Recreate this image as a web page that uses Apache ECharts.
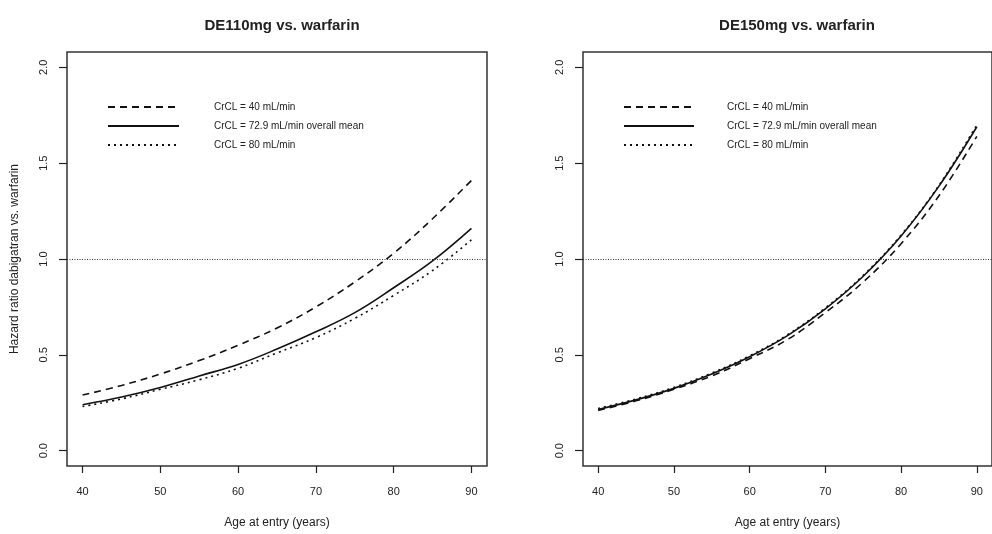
<!DOCTYPE html>
<html>
<head>
<meta charset="utf-8">
<script src="https://cdn.jsdelivr.net/npm/echarts@6/dist/echarts.min.js"></script>
<style>
  html, body { margin: 0; padding: 0; background: #fff; }
  #main { width: 992px; height: 534px; }
</style>
</head>
<body>
<div id="main"></div>
<script>
// ages read at 5-year steps
var ages = [40, 45, 50, 55, 60, 65, 70, 75, 80, 85, 90];
var xTicks = [40, 50, 60, 70, 80, 90];
var yTicks = [0, 0.5, 1, 1.5, 2];
var legendNames = ['CrCL = 40 mL/min', 'CrCL = 72.9 mL/min overall mean', 'CrCL = 80 mL/min'];

// DE110mg vs. warfarin
var de110_crcl40 = [0.29, 0.34, 0.40, 0.47, 0.55, 0.64, 0.75, 0.88, 1.03, 1.21, 1.41];
var de110_mean   = [0.24, 0.28, 0.33, 0.39, 0.45, 0.53, 0.62, 0.72, 0.85, 0.99, 1.16];
var de110_crcl80 = [0.23, 0.27, 0.32, 0.37, 0.43, 0.51, 0.59, 0.69, 0.81, 0.94, 1.10];

// DE150mg vs. warfarin
var de150_crcl40 = [0.21, 0.26, 0.32, 0.39, 0.48, 0.58, 0.72, 0.88, 1.08, 1.33, 1.64];
var de150_mean   = [0.215, 0.265, 0.325, 0.40, 0.49, 0.60, 0.74, 0.91, 1.12, 1.38, 1.69];
var de150_crcl80 = [0.22, 0.27, 0.33, 0.405, 0.495, 0.605, 0.745, 0.915, 1.125, 1.385, 1.70];

var FONT = 'Liberation Sans';
var INK = '#222';

function pairs(vals) {
  return ages.map(function (a, i) { return [a, vals[i]]; });
}

var styles = [
  { type: [7, 5], width: 1.6 },
  { type: 'solid', width: 1.6 },
  { type: [2, 4], width: 1.6 }
];

function xAxisFor(idx) {
  return {
    type: 'value', gridIndex: idx, min: 38, max: 92,
    name: 'Age at entry (years)', nameLocation: 'middle', nameGap: 51,
    nameTextStyle: { fontFamily: FONT, fontSize: 12, color: INK },
    axisLine: { show: false, onZero: false },
    axisTick: { show: true, inside: false, length: 7, customValues: xTicks,
      lineStyle: { color: INK, width: 1.2 } },
    axisLabel: { customValues: xTicks, margin: 20, fontFamily: FONT, fontSize: 11, color: INK },
    splitLine: { show: false }
  };
}

function yAxisFor(idx, showName) {
  return {
    type: 'value', gridIndex: idx, min: -0.08, max: 2.08,
    name: showName ? 'Hazard ratio dabigatran vs. warfarin' : '',
    nameLocation: 'middle', nameGap: 46, nameRotate: 90,
    nameTextStyle: { fontFamily: FONT, fontSize: 12, color: INK },
    axisLine: { show: false, onZero: false },
    axisTick: { show: true, inside: false, length: 8, customValues: yTicks,
      lineStyle: { color: INK, width: 1.2 } },
    axisLabel: { customValues: yTicks, rotate: 90, margin: 18, fontFamily: FONT, fontSize: 11, color: INK,
      formatter: function (v) { return v.toFixed(1); } },
    splitLine: { show: false }
  };
}

function panelSeries(idx, sets) {
  return sets.map(function (vals, k) {
    var s = {
      name: legendNames[k], type: 'line', xAxisIndex: idx, yAxisIndex: idx,
      data: pairs(vals), symbol: 'none', smooth: 0.4,
      lineStyle: { color: '#111', width: styles[k].width, type: styles[k].type },
      itemStyle: { color: '#111' },
      silent: true, z: 3
    };
    if (k === 0) {
      s.markLine = {
        silent: true, symbol: 'none', label: { show: false },
        lineStyle: { color: '#333', width: 1.1, type: [1, 1.5] },
        data: [{ yAxis: 1 }]
      };
    }
    return s;
  });
}

function legendFor(left, width, pad) {
  return {
    orient: 'vertical', left: left, top: 102, padding: 0,
    itemWidth: width, itemHeight: 10, itemGap: 9,
    selectedMode: false, data: legendNames,
    itemStyle: { opacity: 0, borderWidth: 0 },
    textStyle: { fontFamily: FONT, fontSize: 10, lineHeight: 10, color: INK, padding: [0, 0, 0, pad] }
  };
}

var chart = echarts.init(document.getElementById('main'));
chart.setOption({
  animation: false,
  backgroundColor: '#fff',
  title: [
    { text: 'DE110mg vs. warfarin', left: 277, top: 13, textAlign: 'center',
      textStyle: { fontFamily: FONT, fontSize: 15, fontWeight: 'bold', color: INK } },
    { text: 'DE150mg vs. warfarin', left: 792, top: 13, textAlign: 'center',
      textStyle: { fontFamily: FONT, fontSize: 15, fontWeight: 'bold', color: INK } }
  ],
  legend: [legendFor(107, 71, 30), legendFor(623, 70, 28)],
  grid: [
    { left: 67, top: 52, width: 420, height: 419, show: true, borderColor: '#333', borderWidth: 1.5, backgroundColor: 'transparent' },
    { left: 583, top: 52, width: 419, height: 419, show: true, borderColor: '#333', borderWidth: 1.5, backgroundColor: 'transparent' }
  ],
  xAxis: [xAxisFor(0), xAxisFor(1)],
  yAxis: [yAxisFor(0, true), yAxisFor(1, false)],
  series: panelSeries(0, [de110_crcl40, de110_mean, de110_crcl80])
    .concat(panelSeries(1, [de150_crcl40, de150_mean, de150_crcl80]))
});
</script>
</body>
</html>
